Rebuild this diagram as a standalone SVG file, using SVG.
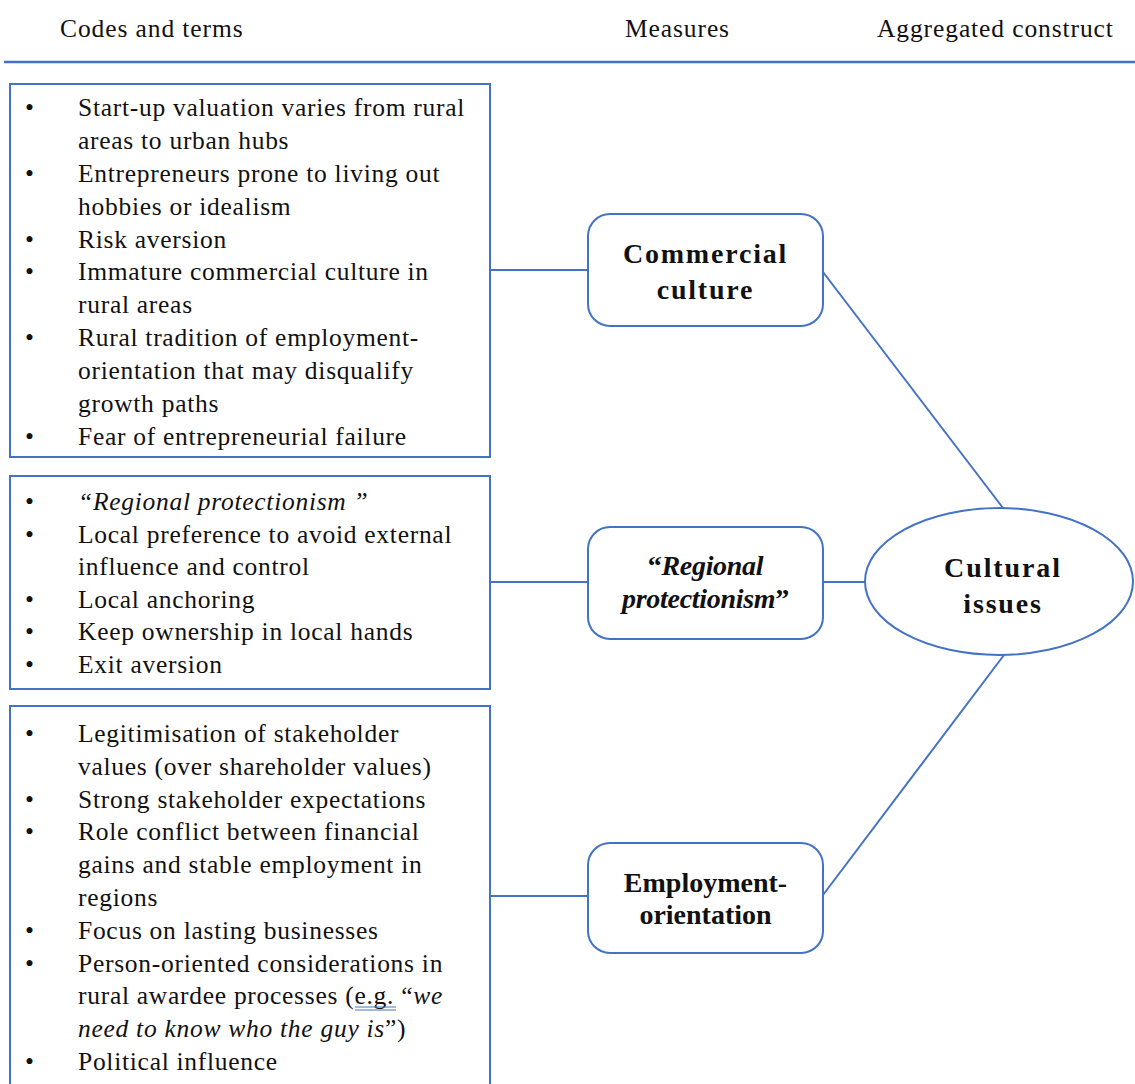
<svg xmlns="http://www.w3.org/2000/svg" width="1135" height="1084" viewBox="0 0 1135 1084">
<style>
.hdr{font-family:"Liberation Serif","Times New Roman",serif;font-size:25.5px;letter-spacing:0.9px;fill:#111}
.body{font-family:"Liberation Serif","Times New Roman",serif;font-size:25.5px;letter-spacing:0.72px;fill:#111}
.bul{font-family:"Liberation Serif","Times New Roman",serif;font-size:25.5px;fill:#111}
.it{font-style:italic}
.bold{font-family:"Liberation Serif","Times New Roman",serif;font-size:28px;font-weight:bold;fill:#111;text-anchor:middle}
.box{fill:#fff;stroke:#4472C4;stroke-width:2}
.conn{stroke:#4472C4;stroke-width:2;fill:none}
</style>
<rect width="1135" height="1084" fill="#fff"/>
<g id="header">
<text class="hdr" x="60" y="37">Codes and terms</text>
<text class="hdr" x="625" y="37">Measures</text>
<text class="hdr" x="877" y="37">Aggregated construct</text>
<line x1="4" y1="62" x2="1135" y2="62" stroke="#4472C4" stroke-width="2.5"/>
</g>
<g id="connectors">
<line class="conn" x1="490" y1="270" x2="588" y2="270"/>
<line class="conn" x1="490" y1="582" x2="588" y2="582"/>
<line class="conn" x1="490" y1="896" x2="588" y2="896"/>
<line class="conn" x1="823" y1="272" x2="1003" y2="508"/>
<line class="conn" x1="823" y1="582" x2="865" y2="582"/>
<line class="conn" x1="823" y1="895" x2="1004" y2="655"/>
</g>
<g id="codes1">
<rect class="box" x="10" y="84" width="480" height="373"/>
<g class="bul">
<text x="25" y="116">•</text><text x="25" y="182">•</text><text x="25" y="248">•</text><text x="25" y="280">•</text><text x="25" y="346">•</text><text x="25" y="445">•</text>
</g>
<g class="body">
<text x="78" y="116">Start-up valuation varies from rural</text>
<text x="78" y="149">areas to urban hubs</text>
<text x="78" y="182">Entrepreneurs prone to living out</text>
<text x="78" y="215">hobbies or idealism</text>
<text x="78" y="248">Risk aversion</text>
<text x="78" y="280">Immature commercial culture in</text>
<text x="78" y="313">rural areas</text>
<text x="78" y="346">Rural tradition of employment-</text>
<text x="78" y="379">orientation that may disqualify</text>
<text x="78" y="412">growth paths</text>
<text x="78" y="445">Fear of entrepreneurial failure</text>
</g>
</g>
<g id="codes2">
<rect class="box" x="10" y="476" width="480" height="213"/>
<g class="bul">
<text x="25" y="510">•</text><text x="25" y="543">•</text><text x="25" y="608">•</text><text x="25" y="640">•</text><text x="25" y="673">•</text>
</g>
<g class="body">
<text x="78" y="510" class="it">“Regional protectionism ”</text>
<text x="78" y="543">Local preference to avoid external</text>
<text x="78" y="575">influence and control</text>
<text x="78" y="608">Local anchoring</text>
<text x="78" y="640">Keep ownership in local hands</text>
<text x="78" y="673">Exit aversion</text>
</g>
</g>
<g id="codes3">
<rect class="box" x="10" y="706" width="480" height="390"/>
<g class="bul">
<text x="25" y="742">•</text><text x="25" y="808">•</text><text x="25" y="840">•</text><text x="25" y="939">•</text><text x="25" y="972">•</text><text x="25" y="1070">•</text>
</g>
<g class="body">
<text x="78" y="742">Legitimisation of stakeholder</text>
<text x="78" y="775">values (over shareholder values)</text>
<text x="78" y="808">Strong stakeholder expectations</text>
<text x="78" y="840">Role conflict between financial</text>
<text x="78" y="873">gains and stable employment in</text>
<text x="78" y="906">regions</text>
<text x="78" y="939">Focus on lasting businesses</text>
<text x="78" y="972">Person-oriented considerations in</text>
<text x="78" y="1004">rural awardee processes (e.g. “<tspan class="it">we</tspan></text>
<text x="78" y="1037"><tspan class="it">need to know who the guy is</tspan>”)</text>
<text x="78" y="1070">Political influence</text>
</g>
<line x1="355" y1="1007" x2="396" y2="1007" stroke="#4472C4" stroke-width="1"/>
<line x1="355" y1="1010" x2="396" y2="1010" stroke="#4472C4" stroke-width="1"/>
</g>
<g id="commercial-culture">
<rect class="box" x="588" y="214" width="235" height="112" rx="22"/>
<text class="bold" x="705.5" y="263" letter-spacing="1.8">Commercial</text>
<text class="bold" x="705.5" y="299" letter-spacing="1.8">culture</text>
</g>
<g id="regional-protectionism">
<rect class="box" x="588" y="527" width="235" height="112" rx="22"/>
<text class="bold" x="705.5" y="575" letter-spacing="-0.3"><tspan font-style="normal">“</tspan><tspan font-style="italic">Regional</tspan></text>
<text class="bold" x="705.5" y="608" letter-spacing="-0.3"><tspan font-style="italic">protectionism</tspan><tspan font-style="normal">”</tspan></text>
</g>
<g id="employment-orientation">
<rect class="box" x="588" y="843" width="235" height="110" rx="22"/>
<text class="bold" x="705.5" y="892">Employment-</text>
<text class="bold" x="705.5" y="924">orientation</text>
</g>
<g id="cultural-issues">
<ellipse class="box" cx="999" cy="581.5" rx="134" ry="73.5"/>
<text class="bold" x="1003" y="577" letter-spacing="1.9">Cultural</text>
<text class="bold" x="1003" y="613" letter-spacing="1.8">issues</text>
</g>
</svg>
